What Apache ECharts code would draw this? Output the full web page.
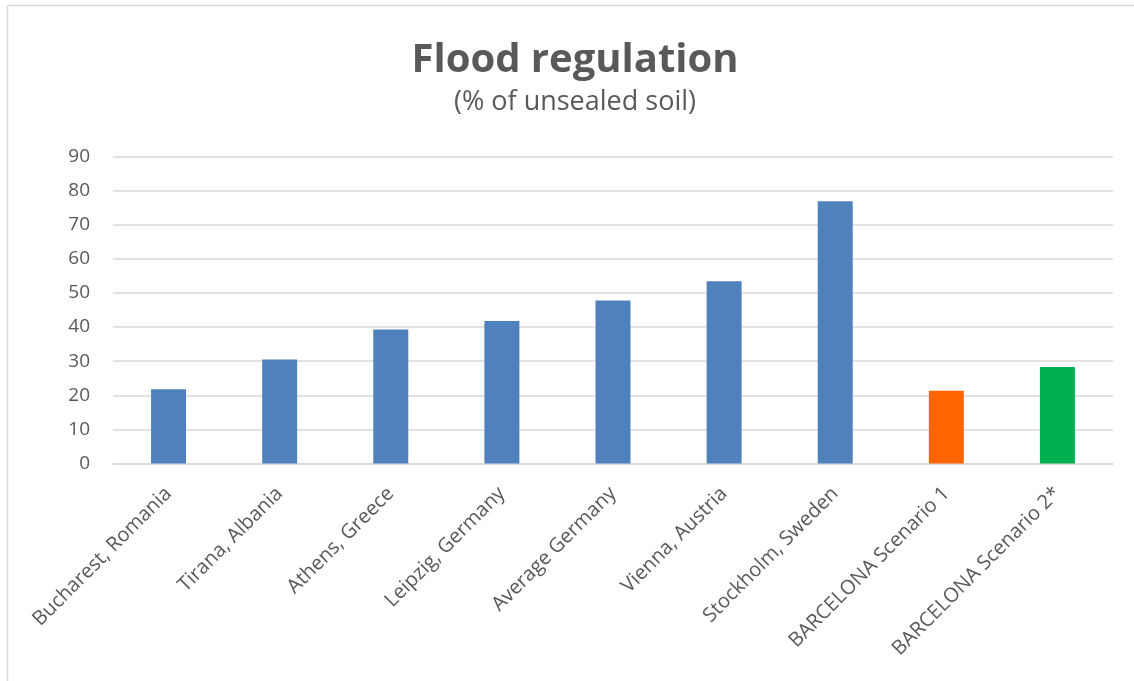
<!DOCTYPE html>
<html>
<head>
<meta charset="utf-8">
<script src="https://cdn.jsdelivr.net/npm/echarts@6/dist/echarts.min.js"></script>
<style>
html,body{margin:0;padding:0;background:#fff;}
#chart{width:1134px;height:681px;}
</style>
</head>
<body>
<div id="chart"></div>
<script>
const categories = ["Bucharest, Romania","Tirana, Albania","Athens, Greece","Leipzig, Germany","Average Germany","Vienna, Austria","Stockholm, Sweden","BARCELONA Scenario 1","BARCELONA Scenario 2*"];
const values = [21.8, 30.5, 39.3, 41.8, 47.8, 53.4, 76.9, 21.3, 28.3];
const barColors = ["#4F81BD","#4F81BD","#4F81BD","#4F81BD","#4F81BD","#4F81BD","#4F81BD","#FF6600","#00B050"];
const yTicks = [0,10,20,30,40,50,60,70,80,90];

const chart = echarts.init(document.getElementById('chart'), null, {renderer:'canvas'});
const font = '"Open Sans", "Noto Sans", sans-serif';
chart.setOption({
  animation:false,
  backgroundColor:'#fff',
  title:{
    text:'Flood regulation',
    subtext:'(% of unsealed soil)',
    left:570, top:36, textAlign:'center',
    itemGap:8,
    textStyle:{fontFamily:font,fontWeight:'bold',fontSize:40,color:'#595959'},
    subtextStyle:{fontFamily:font,fontSize:27,color:'#595959'}
  },
  graphic:[
    {type:'line',shape:{x1:7.5,y1:5.5,x2:1134,y2:5.5},style:{stroke:'#D9D9D9',lineWidth:1.5}},
    {type:'line',shape:{x1:7.5,y1:5.5,x2:7.5,y2:681},style:{stroke:'#D9D9D9',lineWidth:1.5}}
  ],
  grid:{left:113,right:21,top:156.5,bottom:217.5,containLabel:false},
  xAxis:{
    type:'category',
    data:categories,
    axisTick:{show:false},
    axisLine:{lineStyle:{color:'#D9D9D9',width:1.5}},
    axisLabel:{rotate:45,interval:0,margin:27,fontFamily:font,fontSize:20,color:'#595959'}
  },
  yAxis:{
    type:'value',min:yTicks[0],max:yTicks[yTicks.length-1],interval:10,
    axisLine:{show:false},axisTick:{show:false},
    splitLine:{lineStyle:{color:'#D9D9D9',width:1.5}},
    axisLabel:{margin:23,fontFamily:font,fontSize:19,color:'#595959'}
  },
  series:[{
    type:'bar',
    barWidth:35,
    data:values.map((v,i)=>({value:v,itemStyle:{color:barColors[i]}}))
  }]
});
</script>
</body>
</html>
